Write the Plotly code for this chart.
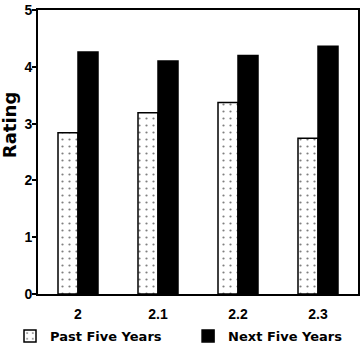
import plotly.graph_objects as go

categories = ["2", "2.1", "2.2", "2.3"]
past_five = [2.84, 3.19, 3.37, 2.74]
next_five = [4.26, 4.10, 4.20, 4.36]
series_names = ["Past Five Years", "Next Five Years"]

TICK_FONT = dict(family="Liberation Sans, Arial, sans-serif", size=14, color="black", weight="bold")
LABEL_FONT = dict(family="DejaVu Sans, sans-serif", size=13, color="black", weight="bold")
TITLE_FONT = dict(family="DejaVu Sans, sans-serif", size=18, color="black", weight="bold")

fig = go.Figure()
fig.add_trace(go.Bar(
    x=categories, y=past_five, name=series_names[0], legend="legend",
    marker=dict(color="white", line=dict(color="black", width=1.5),
                pattern=dict(shape=".", fgcolor="black", bgcolor="white", size=7, solidity=0.08)),
))
fig.add_trace(go.Bar(
    x=categories, y=next_five, name=series_names[1], legend="legend2",
    marker=dict(color="black", line=dict(color="black", width=1.5)),
))

leg_common = dict(orientation="h", xanchor="left", y=-0.095, yanchor="top",
                  font=LABEL_FONT, bgcolor="rgba(0,0,0,0)")

fig.update_layout(
    width=363, height=352,
    margin=dict(l=38, r=5, t=10, b=58, autoexpand=False),
    paper_bgcolor="white", plot_bgcolor="white",
    barmode="group", bargap=0.5, bargroupgap=0,
    font=TICK_FONT,
    showlegend=True,
    legend=dict(x=-0.0875, **leg_common),
    legend2=dict(x=0.469, **leg_common),
    annotations=[dict(text="Rating", textangle=-90, xref="paper", yref="paper",
                      x=-0.09, y=0.595, xanchor="center", yanchor="middle",
                      showarrow=False, font=TITLE_FONT)],
)
fig.update_xaxes(
    type="category", showline=True, linecolor="black", linewidth=2, mirror=True,
    ticks="", showgrid=False, tickfont=TICK_FONT, ticklabelstandoff=6,
)
fig.update_yaxes(
    range=[0, 5], dtick=1, showline=True, linecolor="black", linewidth=2, mirror=True,
    ticks="outside", ticklen=4, tickcolor="black", tickwidth=1.5, showgrid=False, zeroline=False,
    tickfont=TICK_FONT, ticklabelstandoff=-3,
)

fig.write_html("out.html")
